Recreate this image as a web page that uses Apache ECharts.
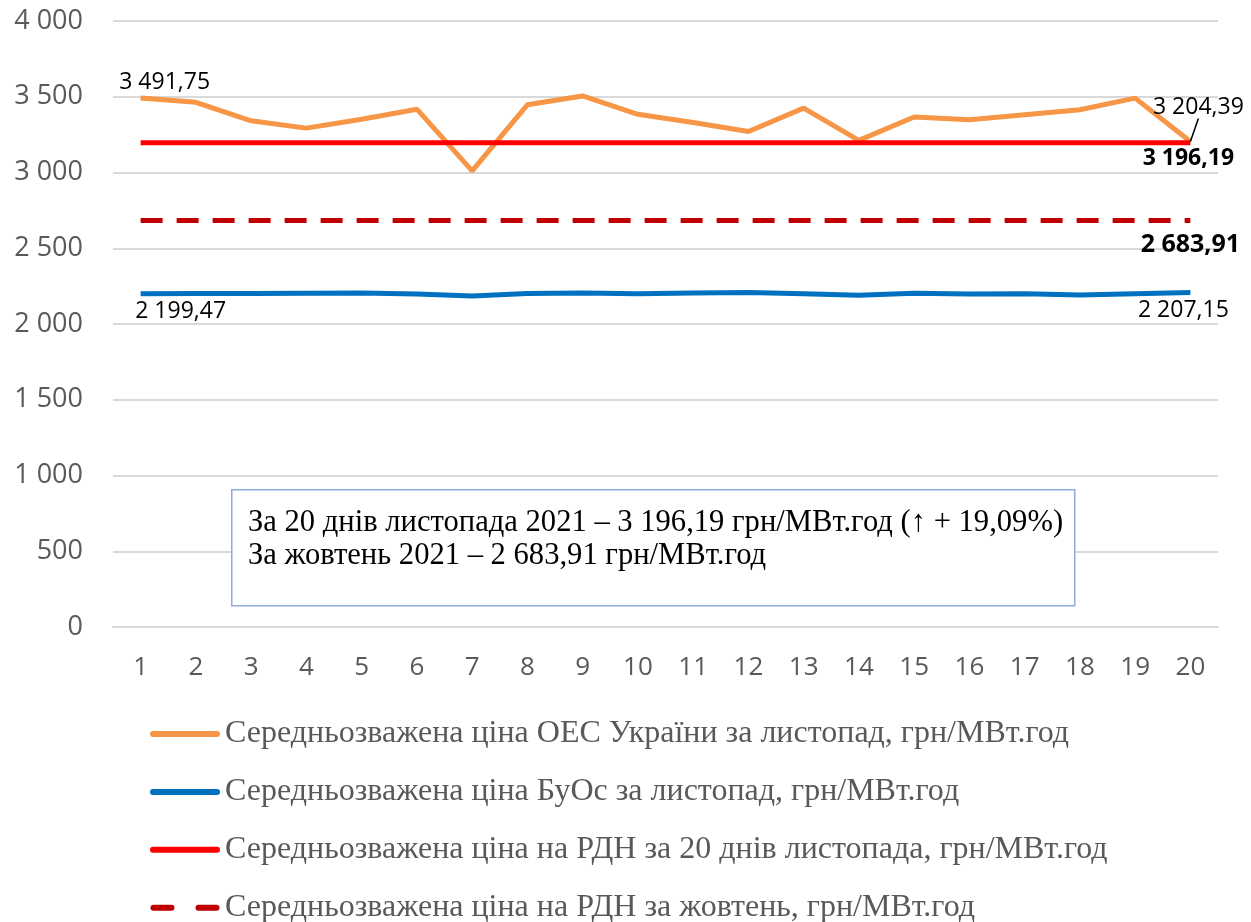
<!DOCTYPE html>
<html>
<head>
<meta charset="utf-8">
<script src="https://cdn.jsdelivr.net/npm/echarts@6/dist/echarts.min.js"></script>
<style>
html,body{margin:0;padding:0;background:#fff;}
#chart{width:1251px;height:922px;}
</style>
</head>
<body>
<div id="chart"></div>
<script>
// days of November
var days = ['1','2','3','4','5','6','7','8','9','10','11','12','13','14','15','16','17','18','19','20'];
// weighted average price, UES of Ukraine
var oesPrice = [3491.75, 3463, 3341, 3293, 3352, 3418, 3011, 3447, 3505, 3384, 3330, 3271, 3425, 3212, 3366, 3348, 3381, 3414, 3491, 3204.39];
// weighted average price, BuOs
var buosPrice = [2199.47, 2201, 2202, 2203, 2204, 2198, 2185, 2201, 2204, 2200, 2205, 2208, 2200, 2190, 2203, 2198, 2199, 2192, 2200, 2207.15];
var rdnNov = 3196.19;
var rdnOct = 2683.91;
var seriesNames = [
    'Середньозважена ціна ОЕС України за листопад, грн/МВт.год',
    'Середньозважена ціна БуОс за листопад, грн/МВт.год',
    'Середньозважена ціна на РДН за 20 днів листопада, грн/МВт.год',
    'Середньозважена ціна на РДН за жовтень, грн/МВт.год'
];
var boxLines = [
    'За 20 днів листопада 2021 – 3 196,19 грн/МВт.год (↑ + 19,09%)',
    'За жовтень 2021 – 2 683,91 грн/МВт.год'
];

function grp(v) {
    return String(v).replace(/\B(?=(\d{3})+(?!\d))/g, ' ');
}
function fmt(v) {
    var s = v.toFixed(2).split('.');
    return grp(s[0]) + ',' + s[1];
}
var numFont = '"Open Sans", sans-serif';

// put labels only on chosen points
function withLabels(arr, lbls, lines) {
    return arr.map(function (v, i) {
        if (lbls[i]) {
            var item = {value: v, label: lbls[i]};
            if (lines && lines[i]) item.labelLine = lines[i];
            return item;
        }
        return v;
    });
}
var last = days.length - 1;
var lblBase = {show: true, formatter: function (p) { return fmt(p.value); }, color: '#000', fontFamily: numFont, fontSize: 23};

var oesData = withLabels(oesPrice, {
    0: Object.assign({}, lblBase, {position: 'top', distance: 4}),
    19: Object.assign({}, lblBase, {position: 'top'})
}, {
    19: {show: true, lineStyle: {color: '#000', width: 1.5}}
});
var buosData = withLabels(buosPrice, {
    0: Object.assign({}, lblBase, {position: 'bottom', distance: 6, offset: [40, 0]}),
    19: Object.assign({}, lblBase, {position: 'bottom', distance: 6, offset: [-7, 0]})
});
var novLine = days.map(function () { return rdnNov; });
var octLine = days.map(function () { return rdnOct; });
var novData = withLabels(novLine, {
    19: Object.assign({}, lblBase, {position: 'bottom', fontWeight: 'bold', fontSize: 23, distance: 4, offset: [-2, 0]})
});
var octData = withLabels(octLine, {
    19: Object.assign({}, lblBase, {position: 'bottom', fontWeight: 'bold', fontSize: 25, distance: 12, offset: [0, 0]})
});

var dashIcon = 'path://M3,0H21A3,3 0 0 1 21,6H3A3,3 0 0 1 3,0Z M48,0H66A3,3 0 0 1 66,6H48A3,3 0 0 1 48,0Z';
var solidIcon = 'path://M3,0H67A3,3 0 0 1 67,6H3A3,3 0 0 1 3,0Z';

var chart = echarts.init(document.getElementById('chart'));
chart.setOption({
    animation: false,
    grid: {left: 113, right: 33, top: 21, bottom: 295},
    legend: {
        orient: 'vertical',
        left: 150,
        top: 718,
        height: 260,
        padding: 0,
        itemGap: 25.9,
        itemWidth: 70,
        itemHeight: 6,
        textStyle: {fontFamily: '"Liberation Serif", serif', fontSize: 32, color: '#595959'},
        data: [
            {name: seriesNames[0], icon: solidIcon},
            {name: seriesNames[1], icon: solidIcon},
            {name: seriesNames[2], icon: solidIcon},
            {name: seriesNames[3], icon: dashIcon}
        ]
    },
    xAxis: {
        type: 'category',
        data: days,
        boundaryGap: true,
        axisLine: {show: true, lineStyle: {color: '#D9D9D9', width: 2}},
        axisTick: {show: false},
        axisLabel: {color: '#595959', fontFamily: numFont, fontSize: 26, margin: 28}
    },
    yAxis: {
        type: 'value',
        min: 0,
        max: 4000,
        interval: 500,
        axisLine: {show: false},
        axisTick: {show: false},
        splitLine: {lineStyle: {color: '#D9D9D9', width: 2}},
        axisLabel: {color: '#595959', fontFamily: numFont, fontSize: 27, margin: 30, formatter: function (v) { return grp(v); }}
    },
    series: [
        {
            name: seriesNames[0], type: 'line', data: oesData, symbol: 'circle', symbolSize: 0.1,
            lineStyle: {color: '#F79646', width: 5}, itemStyle: {color: '#F79646'},
            labelLayout: function (p) {
                if (p.dataIndex === 0) return {dx: 24, dy: 0};
                if (p.dataIndex === last) return {dx: 8, dy: -18};
            }
        },
        {
            name: seriesNames[1], type: 'line', data: buosData, symbol: 'circle', symbolSize: 0.1,
            lineStyle: {color: '#0070C0', width: 5}, itemStyle: {color: '#0070C0'}
        },
        {
            name: seriesNames[2], type: 'line', data: novData, symbol: 'circle', symbolSize: 0.1,
            lineStyle: {color: '#FF0000', width: 5}, itemStyle: {color: '#FF0000'}
        },
        {
            name: seriesNames[3], type: 'line', data: octData, symbol: 'circle', symbolSize: 0.1,
            lineStyle: {color: '#C00000', width: 5, type: [22, 14]}, itemStyle: {color: '#C00000'}
        }
    ],
    graphic: [
        {
            type: 'rect', left: 231, top: 489,
            shape: {width: 843, height: 116},
            style: {fill: '#fff', stroke: '#8FAADC', lineWidth: 1.5},
            z: 100
        },
        {
            type: 'text', left: 248, top: 506,
            style: {text: boxLines.join('\n'), font: '30.6px "Liberation Serif", serif', fill: '#000', lineHeight: 33},
            z: 101
        }
    ]
});
</script>
</body>
</html>
